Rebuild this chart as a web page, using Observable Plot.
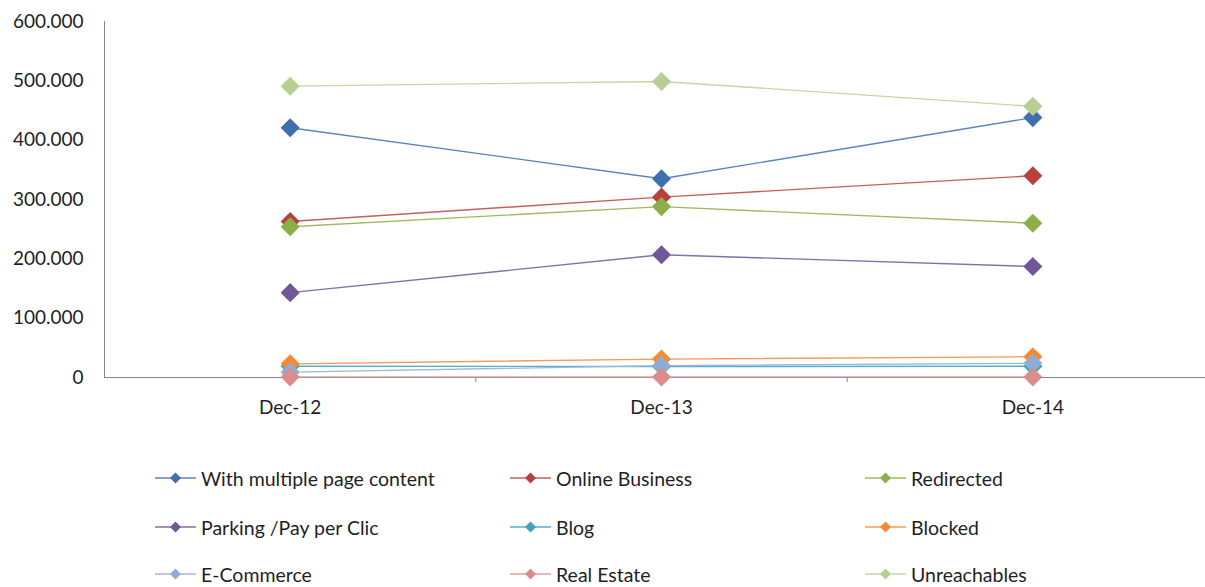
<!DOCTYPE html>
<html>
<head>
<meta charset="utf-8">
<script src="https://cdn.jsdelivr.net/npm/d3@7"></script>
<script src="https://cdn.jsdelivr.net/npm/@observablehq/plot@0.6"></script>
<style>
  html, body { margin: 0; padding: 0; background: #fff; overflow: hidden; }
  #chart { width: 1205px; height: 587px; position: relative; font-family: Lato, "Open Sans", sans-serif; }
  #legend { position: absolute; left: 0; top: 0; width: 1205px; height: 587px; pointer-events: none; }
  .item { position: absolute; display: flex; align-items: center; font-size: 19.5px; color: #1f1f1f; white-space: nowrap; }
  .item svg { margin-right: 5px; }
</style>
</head>
<body>
<div id="chart"></div>
<script>
const categories = ["Dec-12", "Dec-13", "Dec-14"];
const seriesNames = [
  "With multiple page content", "Online Business", "Redirected",
  "Parking /Pay per Clic", "Blog", "Blocked",
  "E-Commerce", "Real Estate", "Unreachables"
];
const withMultiplePageContent = [421000, 335000, 438000];
const onlineBusiness = [263000, 304000, 340000];
const redirected = [254000, 288000, 260000];
const parkingPayPerClic = [143000, 207000, 187000];
const blog = [19000, 18500, 19000];
const blocked = [23000, 31000, 35000];
const eCommerce = [9000, 20000, 24000];
const realEstate = [1000, 1000, 1000];
const unreachables = [491000, 499000, 457000];
const yTicks = [0, 100000, 200000, 300000, 400000, 500000, 600000];

const seriesValues = [withMultiplePageContent, onlineBusiness, redirected, parkingPayPerClic, blog, blocked, eCommerce, realEstate, unreachables];
const markerColors = ["#3F6FAE", "#B8413E", "#8CAF4A", "#71579A", "#3FA3C0", "#F58A32", "#8FACD7", "#D98E8D", "#B7CF92"];
const lineColors   = ["#5A84BD", "#C45F5C", "#9DBC62", "#8470A8", "#55B0C9", "#F79A55", "#9DB8DD", "#DFA09E", "#C4D7A5"];

const rows = [];
seriesNames.forEach((name, s) => {
  categories.forEach((c, i) => rows.push({series: name, idx: i, cat: c, value: seriesValues[s][i], s}));
});

const fmt = v => v === 0 ? "0" : d3.format(",")(v).replace(/,/g, ".");

const marks = [];
marks.push(Plot.ruleY([0], {x1: -0.5, x2: 2.5, stroke: "#868686", strokeWidth: 1}));
marks.push(Plot.ruleX([-0.5], {y1: 0, y2: 600000, stroke: "#868686", strokeWidth: 1}));
marks.push(Plot.axisX({ticks: [0.5, 1.5], tickFormat: () => "", tickSize: 5, stroke: "#868686", label: null}));
marks.push(Plot.axisX({ticks: [0, 1, 2], tickSize: 0, tickPadding: 23, tickFormat: i => categories[i], fontSize: 19, fill: "#1f1f1f", label: null}));
marks.push(Plot.axisY({ticks: yTicks, tickSize: 0, tickPadding: 21, tickFormat: fmt, fontSize: 19, fill: "#1f1f1f", label: null}));
seriesNames.forEach((name, s) => {
  const d = rows.filter(r => r.s === s);
  marks.push(Plot.line(d, {x: "idx", y: "value", stroke: lineColors[s], strokeWidth: 1.4}));
  marks.push(Plot.dot(d, {x: "idx", y: "value", symbol: "diamond2", r: 8.6, fill: markerColors[s], stroke: "none"}));
});

const plot = Plot.plot({
  width: 1205,
  height: 430,
  marginLeft: 104, marginRight: 0, marginTop: 21, marginBottom: 53,
  style: {fontFamily: "Lato, 'Open Sans', sans-serif", background: "#fff", overflow: "hidden"},
  x: {domain: [-0.5, 2.5], range: [104, 1218], label: null},
  y: {domain: [0, 600000], range: [377, 21], label: null},
  marks
});
const chart = document.getElementById("chart");
chart.appendChild(plot);

// Legend (3 columns x 3 rows)
const legend = document.createElement("div");
legend.id = "legend";
const colX = [155, 510, 865];
const rowY = [478, 527, 574];
seriesNames.forEach((name, s) => {
  const item = document.createElement("div");
  item.className = "item";
  item.style.left = colX[s % 3] + "px";
  item.style.top = (rowY[Math.floor(s / 3)] - 12) + "px";
  item.style.height = "24px";
  item.innerHTML = `<svg width="41" height="14" viewBox="0 0 41 14">
      <line x1="0" y1="7" x2="41" y2="7" stroke="${lineColors[s]}" stroke-width="1.5"/>
      <path d="M20.5 1.5 L26 7 L20.5 12.5 L15 7 Z" fill="${markerColors[s]}"/>
    </svg><span>${name}</span>`;
  legend.appendChild(item);
});
chart.appendChild(legend);
</script>
</body>
</html>
